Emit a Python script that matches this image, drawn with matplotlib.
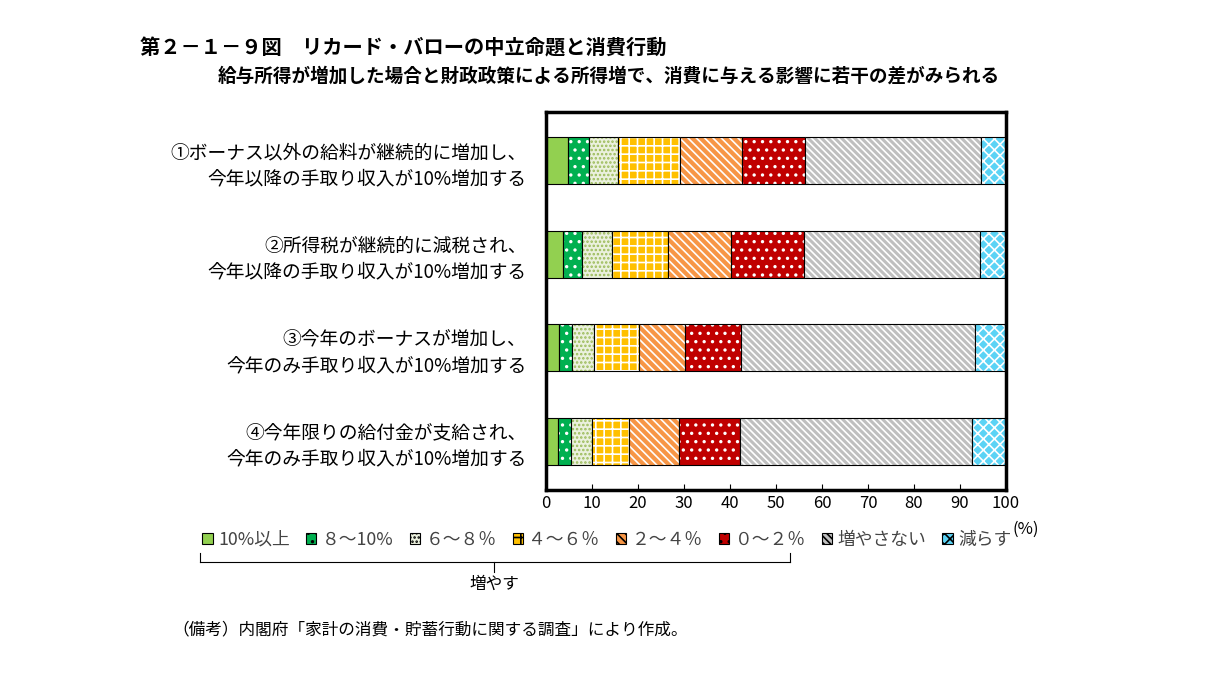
import matplotlib
matplotlib.use("Agg")
import matplotlib.pyplot as plt
from matplotlib.patches import Patch
from matplotlib.lines import Line2D

plt.rcParams['font.family'] = ['Noto Sans CJK JP', 'DejaVu Sans']
plt.rcParams['hatch.linewidth'] = 1.2

categories = ["①ボーナス以外の給料が継続的に増加し、\n今年以降の手取り収入が10%増加する",
              "②所得税が継続的に減税され、\n今年以降の手取り収入が10%増加する",
              "③今年のボーナスが増加し、\n今年のみ手取り収入が10%増加する",
              "④今年限りの給付金が支給され、\n今年のみ手取り収入が10%増加する"]
series = ["10%以上", "８～10%", "６～８％", "４～６％", "２～４％", "０～２％", "増やさない", "減らす"]
values = [
    [4.7, 4.7, 6.3, 13.5, 13.4, 13.6, 38.4, 5.4],
    [3.8, 4.0, 6.5, 12.3, 13.6, 15.9, 38.2, 5.7],
    [2.9, 2.8, 4.7, 9.9, 10.0, 12.0, 51.0, 6.7],
    [2.7, 2.7, 4.5, 8.2, 10.8, 13.2, 50.6, 7.3],
]
colors = ["#92d050", "#00b050", "#ebf1de", "#ffc000", "#f79646", "#c00000", "#bfbfbf", "#5bd3f5"]
hatches = [None, "..", "....", "++", "\\\\\\\\", "..", "\\\\\\\\\\", "xxx"]
hcolors = ["white", "white", "#9bbb59", "white", "white", "white", "white", "white"]

fig = plt.figure(figsize=(12.18, 7.0), dpi=100)
ax = fig.add_axes([546/1218, 1-490/700, 460/1218, 378/700])

ys = range(len(categories))
for j, s in enumerate(series):
    lefts = [sum(v[:j]) for v in values]
    widths = [v[j] for v in values]
    ax.barh(ys, widths, left=lefts, height=0.5, color=colors[j],
            hatch=hatches[j], edgecolor=hcolors[j], linewidth=0)
    ax.barh(ys, widths, left=lefts, height=0.5, fill=False,
            edgecolor="black", linewidth=0.8)

ax.set_xlim(0, 100)
ax.set_ylim(3.52, -0.52)
ax.set_xticks(range(0, 101, 10))
ax.set_yticks(list(ys))
ax.set_yticklabels(categories, fontsize=13.5, ha='right', linespacing=1.3)
ax.tick_params(axis='y', length=0, pad=14)
ax.tick_params(axis='x', direction='in', length=4, labelsize=12)
for sp in ax.spines.values():
    sp.set_linewidth(2.5)

handles = [Patch(facecolor=colors[j], hatch=hatches[j], edgecolor="black", linewidth=0.8)
           for j in range(len(series))]
fig.legend(handles, series, ncol=8, loc='center left', bbox_to_anchor=(186/1218, 1-540/700),
           frameon=False, fontsize=12.8, handlelength=0.6, handleheight=0.6,
           handletextpad=0.3, columnspacing=0.9, labelcolor="#444444")
fig.text(1012/1218, 1-534/700, "(%)", fontsize=12)

# bracket
y0, y1 = 1-553/700, 1-562/700
x0, x1, xm = 200/1218, 790/1218, 494/1218
for args in [([x0, x0], [y0, y1]), ([x1, x1], [y0, y1]), ([x0, x1], [y1, y1]), ([xm, xm], [y1, 1-572/700])]:
    fig.add_artist(Line2D(args[0], args[1], color="black", lw=0.8, transform=fig.transFigure))
fig.text(xm, 1-584/700, "増やす", ha='center', va='center', fontsize=12)

fig.text(140/1218, 1-48/700, "第２－１－９図　リカード・バローの中立命題と消費行動", fontsize=14.6, fontweight='bold', va='center')
fig.text(218/1218, 1-76/700, "給与所得が増加した場合と財政政策による所得増で、消費に与える影響に若干の差がみられる",
         fontsize=13.4, fontweight='bold', va='center')
fig.text(172/1218, 1-630/700, "（備考）内閣府「家計の消費・貯蓄行動に関する調査」により作成。", fontsize=12, va='center')

fig.savefig("out.png", dpi=100)
